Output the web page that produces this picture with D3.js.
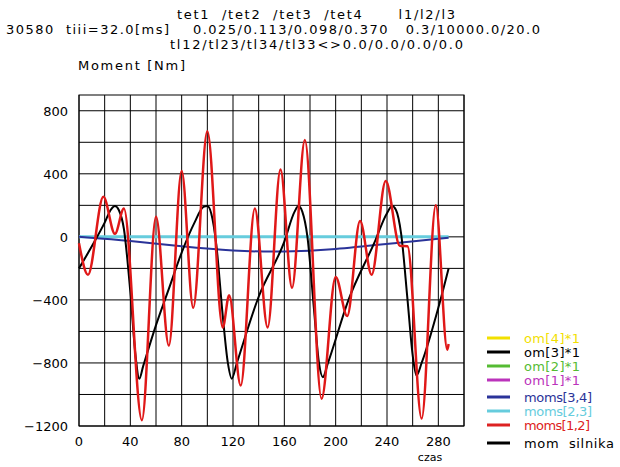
<!DOCTYPE html><html><head><meta charset="utf-8">
<script src="https://cdn.jsdelivr.net/npm/d3@7"></script>
<style>body{margin:0;background:#fff}text{font-family:"DejaVu Sans",sans-serif;font-size:13px}</style></head><body>
<svg id="c" width="620" height="467"></svg>
<script>
const xTicks=[0,40,80,120,160,200,240,280];
const yTicks=[800,400,0,-400,-800,-1200];
const motor=[[0,-200],[10,-60],[20,90],[25,175],[28,195],[31,170],[35,50],[40,-350],[44,-750],[47,-900],[50,-820],[60,-560],[70,-330],[80,-100],[90,90],[97,190],[100,195],[103,150],[107,-50],[112,-500],[116,-800],[119,-900],[123,-800],[140,-380],[160,-30],[168,160],[171,195],[174,160],[178,0],[183,-450],[187,-800],[190,-890],[194,-800],[210,-400],[230,-40],[240,150],[244,195],[247,170],[251,20],[256,-400],[260,-750],[263,-880],[267,-800],[280,-450],[288,-200]];
const moms12=[[0,-40],[7,-240],[19,254],[28,19],[35,180],[49,-1163],[60,128],[70,-690],[80,418],[89,-450],[100,670],[112,-575],[117,-370],[126,-943],[137,180],[147,-575],[157,428],[166,-323],[176,615],[189,-1027],[200,-254],[209,-502],[219,100],[228,-240],[239,355],[250,-57],[256,-60],[267,-1153],[278,200],[287,-716],[288,-680]];
const moms34=[[0,0],[40,-25],[80,-60],[120,-90],[160,-97],[200,-80],[240,-45],[288,-5]];
const moms23=[[0,0],[288,0]];
const legend=[["om[4]*1","#f2e000"],["om[3]*1","#000"],["om[2]*1","#55bb33"],["om[1]*1","#bb33bb"],["moms[3,4]","#2a3399"],["moms[2,3]","#66ccdd"],["moms[1,2]","#dd2222"],["mom  silnika","#000"]];
const legY=[338,352,366,380,397,411,425,443];
const legW=[56,56,56,56,68,68,66,90];
const svg=d3.select("#c");
const x=d3.scaleLinear().domain([0,300]).range([79,464]);
const y=d3.scaleLinear().domain([-1200,900]).range([426,95]);
const g=svg.append("g");
d3.range(0,301,20).forEach(t=>g.append("line").attr("x1",x(t)).attr("x2",x(t)).attr("y1",y(900)).attr("y2",y(-1200)).attr("stroke","#000"));
d3.range(-1200,801,200).forEach(v=>g.append("line").attr("x1",x(0)).attr("x2",x(300)).attr("y1",y(v)).attr("y2",y(v)).attr("stroke","#000"));
g.append("rect").attr("x",x(0)).attr("y",y(900)).attr("width",x(300)-x(0)).attr("height",y(-1200)-y(900)).attr("fill","none").attr("stroke","#000");
yTicks.forEach(v=>svg.append("text").attr("x",68).attr("y",y(v)+5).attr("text-anchor","end").text(v<0?"\u2212"+(-v):v));
xTicks.forEach(t=>svg.append("text").attr("x",x(t)).attr("y",446).attr("text-anchor","middle").text(t));
svg.append("text").attr("x",430).attr("y",461).attr("text-anchor","middle").style("font-size","11px").text("czas");
const L=c=>d3.line().x(d=>x(d[0])).y(d=>y(d[1])).curve(c);
svg.append("path").attr("d",L(d3.curveLinear)(moms23)).attr("stroke","#66ccdd").attr("stroke-width",3).attr("fill","none");
svg.append("path").attr("d",L(d3.curveBasis)(moms34)).attr("stroke","#2a3399").attr("stroke-width",2).attr("fill","none");
svg.append("path").attr("d",L(d3.curveMonotoneX)(motor)).attr("stroke","#000").attr("stroke-width",2).attr("fill","none");
svg.append("path").attr("d",L(d3.curveMonotoneX)(moms12)).attr("stroke","#e01818").attr("stroke-width",2.5).attr("fill","none");
legend.forEach((l,i)=>{svg.append("line").attr("x1",487).attr("x2",510).attr("y1",legY[i]).attr("y2",legY[i]).attr("stroke",l[1]).attr("stroke-width",3);
svg.append("text").attr("x",524).attr("y",legY[i]+5).attr("fill",l[1]).attr("textLength",legW[i]).attr("xml:space","preserve").text(l[0]);});
const hdr=[[177,19,278,"tet1  /tet2  /tet3  /tet4      l1/l2/l3"],[6,34,534,"30580  tiii=32.0[ms]    0.025/0.113/0.098/0.370   0.3/10000.0/20.0"],[170,49,293,"tl12/tl23/tl34/tl33<>0.0/0.0/0.0/0.0"],[78,70,107,"Moment [Nm]"]];
hdr.forEach(h=>svg.append("text").attr("x",h[0]).attr("y",h[1]).attr("textLength",h[2]).attr("xml:space","preserve").text(h[3]));
</script></body></html>
